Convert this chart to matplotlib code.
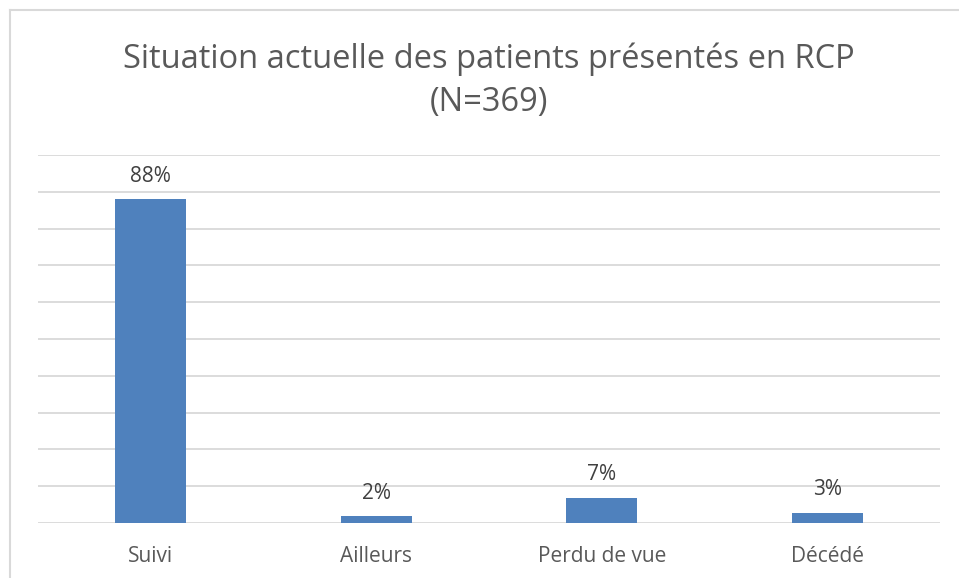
import matplotlib
matplotlib.use('Agg')
import matplotlib.pyplot as plt
from matplotlib.lines import Line2D

# situation of the patients (share of N=369, in %)
categories = ['Suivi', 'Ailleurs', 'Perdu de vue', 'Décédé']
values = [88.0, 1.8, 6.8, 2.8]
labels = ['88%', '2%', '7%', '3%']

W, H = 959, 578
fig = plt.figure(figsize=(W / 100, H / 100), dpi=100)
plt.rcParams['font.family'] = ['Open Sans', 'DejaVu Sans']

# plot area in pixels: x 38..940, y 155..523
ax = fig.add_axes([38 / W, (H - 523) / H, (940 - 38) / W, (523 - 155) / H])

x = range(len(categories))
ax.bar(x, values, width=0.315, color='#4f81bd', zorder=3)

for i, v in enumerate(values):
  ax.annotate(labels[i], (i, v), xytext=(0, 9), textcoords='offset points',
              ha='center', va='bottom', fontsize=15, color='#404040')

ax.set_xlim(-0.5, len(categories) - 0.5)
ax.set_ylim(0, 100)
ax.set_yticks(range(0, 101, 10))
ax.yaxis.grid(True, color='#d9d9d9', linewidth=1.3, zorder=0)
ax.tick_params(axis='y', left=False, labelleft=False)
ax.tick_params(axis='x', bottom=False, pad=13, labelsize=15, labelcolor='#595959')
ax.set_xticks(list(x))
ax.set_xticklabels(categories)
for s in ax.spines.values():
  s.set_visible(False)

fig.text(489 / W, 1 - 59 / H, 'Situation actuelle des patients présentés en RCP',
         ha='center', va='center', fontsize=23.5, color='#595959')
fig.text(489 / W, 1 - 102 / H, '(N=369)', ha='center', va='center', fontsize=23.5, color='#595959')

# chart frame (left and top edges visible)
fig.add_artist(Line2D([9.5 / W, 9.5 / W], [0, 1 - 9.5 / H], color='#d9d9d9', linewidth=1.5))
fig.add_artist(Line2D([9.5 / W, 1], [1 - 9.5 / H, 1 - 9.5 / H], color='#d9d9d9', linewidth=1.5))

fig.savefig('out.png', dpi=100)
plt.close()
